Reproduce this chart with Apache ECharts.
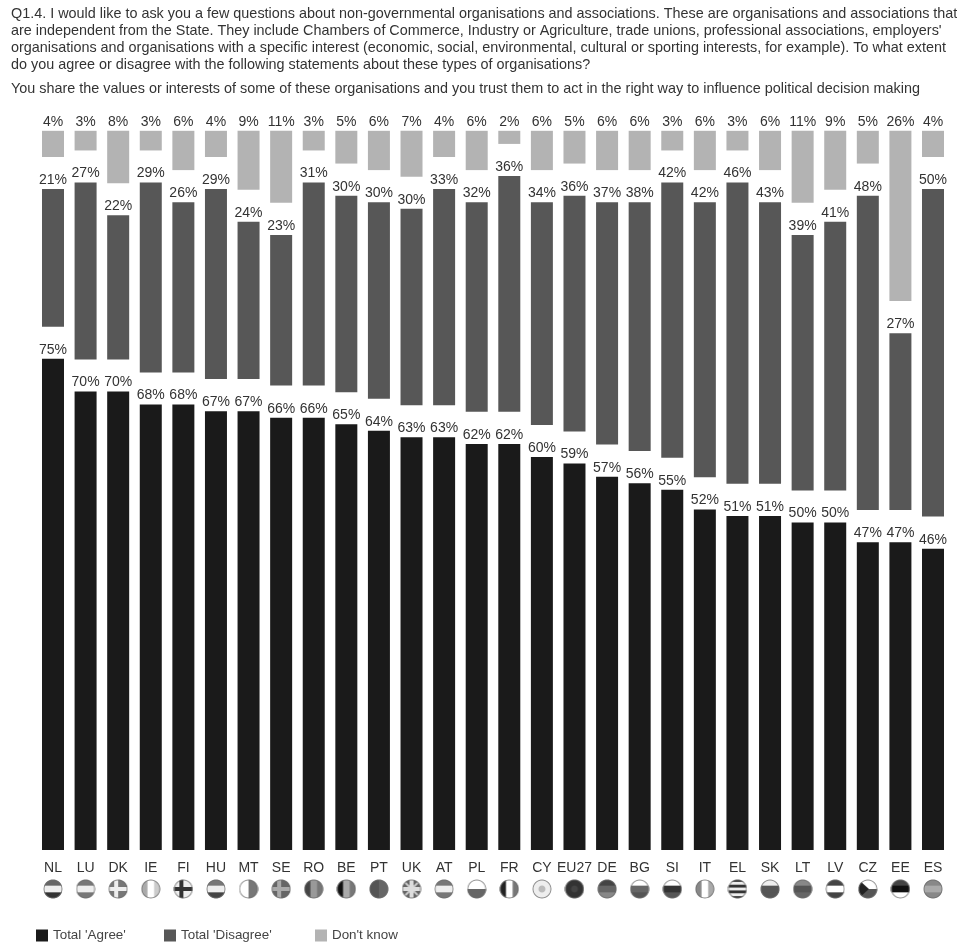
<!DOCTYPE html>
<html>
<head>
<meta charset="utf-8">
<style>html,body{margin:0;padding:0;background:#fff}#chart{width:957px;height:944px}</style>
<script src="https://cdn.jsdelivr.net/npm/echarts@6/dist/echarts.min.js"></script>
</head>
<body>
<div id="chart"></div>
<script>
// Survey results per member state, sorted by share of agreement
const countries = ['NL','LU','DK','IE','FI','HU','MT','SE','RO','BE','PT','UK','AT','PL','FR','CY','EU27','DE','BG','SI','IT','EL','SK','LT','LV','CZ','EE','ES'];
const agree    = [75,70,70,68,68,67,67,66,66,65,64,63,63,62,62,60,59,57,56,55,52,51,51,50,50,47,47,46];
const disagree = [21,27,22,29,26,29,24,23,31,30,30,30,33,32,36,34,36,37,38,42,42,46,43,39,41,48,27,50];
const dontKnow = [4,3,8,3,6,4,9,11,3,5,6,7,4,6,2,6,5,6,6,3,6,3,6,11,9,5,26,4];

// Blank space, in percentage points, separating the stacked answer blocks
const blockGap = 4.9;

const questionText = [
  "Q1.4. I would like to ask you a few questions about non-governmental organisations and associations. These are organisations and associations that",
  "are independent from the State. They include Chambers of Commerce, Industry or Agriculture, trade unions, professional associations, employers'",
  "organisations and organisations with a specific interest (economic, social, environmental, cultural or sporting interests, for example). To what extent",
  "do you agree or disagree with the following statements about these types of organisations?"
].join('\n');
const statementText = 'You share the values or interests of some of these organisations and you trust them to act in the right way to influence political decision making';

// Greyscale flag patterns: stripe direction plus tones, or a cross on a field
const flagPatterns = {
  NL:{h:['#666','#eee','#333']}, LU:{h:['#777','#eee','#777']}, DK:{cross:['#777','#eee']},
  IE:{v:['#aaa','#fff','#ccc']}, FI:{cross:['#eee','#333']}, HU:{h:['#777','#eee','#444']},
  MT:{v:['#fff','#777']}, SE:{cross:['#666','#aaa']}, RO:{v:['#444','#999','#777']},
  BE:{v:['#111','#aaa','#777']}, PT:{v:['#555','#666']}, UK:{cross:['#666','#ddd'],diag:'#ccc'},
  AT:{h:['#777','#eee','#777']}, PL:{h:['#fff','#666']}, FR:{v:['#222','#fff','#777']},
  CY:{v:['#eee'],dot:'#bbb'}, EU27:{v:['#333'],dot:'#444'}, DE:{h:['#444','#666','#888']},
  BG:{h:['#fff','#666','#555']}, SI:{h:['#fff','#333','#555']}, IT:{v:['#888','#fff','#aaa']},
  EL:{h:['#333','#eee','#333','#eee','#333','#eee','#333']}, SK:{h:['#eee','#555','#555']},
  LT:{h:['#888','#555','#666']}, LV:{h:['#444','#fff','#444']}, CZ:{h:['#fff','#555'],wedge:'#222'},
  EE:{h:['#444','#111','#fff']}, ES:{h:['#888','#aaa','#888']}
};

// Paints one pattern into a round badge and returns it as an image
function flagImage(p) {
  const size = 40, c = document.createElement('canvas');
  c.width = c.height = size;
  const g = c.getContext('2d');
  g.beginPath(); g.arc(size/2, size/2, size/2 - 1, 0, Math.PI*2); g.clip();
  const stripes = p.h || p.v;
  if (stripes) stripes.forEach((tone, i) => {
    const s = size / stripes.length;
    g.fillStyle = tone;
    if (p.h) g.fillRect(0, i*s, size, s + 1); else g.fillRect(i*s, 0, s + 1, size);
  });
  if (p.cross) {
    g.fillStyle = p.cross[0]; g.fillRect(0, 0, size, size);
    if (p.diag) {
      g.strokeStyle = p.diag; g.lineWidth = 4;
      g.beginPath(); g.moveTo(0,0); g.lineTo(size,size); g.moveTo(size,0); g.lineTo(0,size); g.stroke();
    }
    g.fillStyle = p.cross[1];
    g.fillRect(p.diag ? 16 : 12, 0, 8, size);
    g.fillRect(0, 16, size, 8);
  }
  if (p.dot) { g.fillStyle = p.dot; g.beginPath(); g.arc(size/2, size/2, 7, 0, Math.PI*2); g.fill(); }
  if (p.wedge) { g.fillStyle = p.wedge; g.beginPath(); g.moveTo(0,0); g.lineTo(size*0.55,size/2); g.lineTo(0,size); g.fill(); }
  g.strokeStyle = 'rgba(110,110,110,0.8)'; g.lineWidth = 2;
  g.beginPath(); g.arc(size/2, size/2, size/2 - 2, 0, Math.PI*2); g.stroke();
  return c.toDataURL();
}

const axisRich = { code: { fontFamily:'Liberation Sans', fontSize:14, color:'#333', lineHeight:21, align:'center' } };
countries.forEach(code => {
  axisRich['flag' + code] = { width:20, height:20, align:'center', backgroundColor:{ image: flagImage(flagPatterns[code]) } };
});

const percentLabel = {
  show:true, position:'top', distance:2, formatter:'{c}%',
  fontFamily:'Liberation Sans', fontSize:14, color:'#333'
};
const spacer = name => ({
  name, type:'bar', stack:'answers', silent:true, barWidth:22,
  itemStyle:{ color:'transparent' }, label:{ show:false }, emphasis:{ disabled:true },
  data: countries.map(() => blockGap)
});
const block = (name, data, color) => ({
  name, type:'bar', stack:'answers', barWidth:22, data,
  itemStyle:{ color }, label:percentLabel, emphasis:{ disabled:true }
});

const titleStyle = { fontFamily:'Liberation Sans', fontSize:14.4, fontWeight:'normal', color:'#333', lineHeight:16.8 };

// One legend per answer so each key can sit at its own spacing
const legendEntry = (name, left) => ({
  left, top:924, itemWidth:12, itemHeight:12, icon:'rect', data:[name],
  textStyle:{ fontFamily:'Liberation Sans', fontSize:13.4, color:'#444' }
});

const chart = echarts.init(document.getElementById('chart'), null, { renderer:'canvas' });
chart.setOption({
  animation:false,
  backgroundColor:'#fff',
  title:[
    { text:questionText, left:6, top:1, textStyle:titleStyle },
    { text:statementText, left:6, top:76, textStyle:titleStyle }
  ],
  legend:[
    legendEntry("Total 'Agree'", 31),
    legendEntry("Total 'Disagree'", 159),
    legendEntry("Don't know", 310)
  ],
  grid:{ left:36.7, right:7.7, top:129.5, bottom:94 },
  xAxis:{
    type:'category', data:countries,
    axisLine:{ show:false }, axisTick:{ show:false },
    axisLabel:{ interval:0, margin:8, formatter: v => `{code|${v}}\n{flag${v}|}`, rich:axisRich }
  },
  yAxis:{ type:'value', min:0, max:110, show:false, splitLine:{ show:false } },
  series:[
    block("Total 'Agree'", agree, '#1a1a1a'),
    spacer('gap1'),
    block("Total 'Disagree'", disagree, '#575757'),
    spacer('gap2'),
    block("Don't know", dontKnow, '#b3b3b3')
  ]
});
</script>
</body>
</html>
